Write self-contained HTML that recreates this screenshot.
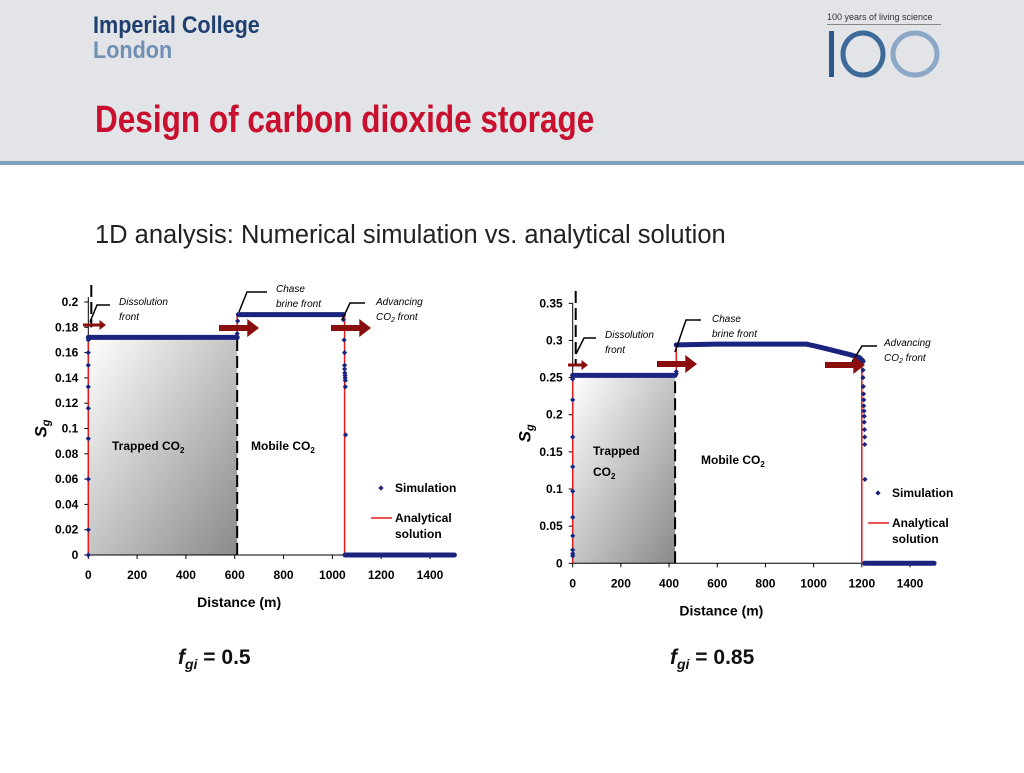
<!DOCTYPE html>
<html><head><meta charset="utf-8"><style>
body{margin:0;width:1024px;height:768px;overflow:hidden;background:#fff;font-family:"Liberation Sans",sans-serif}
svg text{font-family:"Liberation Sans",sans-serif}
</style></head><body>
<svg id="s" width="1024" height="768" xmlns="http://www.w3.org/2000/svg">
<defs>
<linearGradient id="gr" x1="0" y1="0" x2="1" y2="1"><stop offset="0" stop-color="#ffffff"/><stop offset="1" stop-color="#8a8a8a"/></linearGradient>
</defs>
<rect x="0" y="0" width="1024" height="161" fill="#e2e4e8"/>
<rect x="0" y="161" width="1024" height="4" fill="#809fbd"/>
<text x="93" y="33" font-size="24" font-weight="bold" fill="#1f3f6e" transform="translate(93 0) scale(0.9 1) translate(-93 0)">Imperial College</text>
<text x="93" y="58" font-size="24" font-weight="bold" fill="#6f8fb3" transform="translate(93 0) scale(0.9 1) translate(-93 0)">London</text>
<text x="827" y="20" font-size="9" fill="#333">100 years of living science</text>
<rect x="827" y="24" width="114" height="1" fill="#888"/>
<g>
<rect x="829" y="31" width="5" height="46" fill="#2a5a8a"/>
<ellipse cx="863" cy="54" rx="20" ry="21" fill="none" stroke="#3d6a98" stroke-width="5"/>
<ellipse cx="915" cy="54" rx="22" ry="21" fill="none" stroke="#8ca8c6" stroke-width="5"/>
</g>
<text x="95" y="132" font-size="38" font-weight="bold" fill="#c8102e" font-family="Liberation Sans Narrow, Liberation Sans, sans-serif" transform="translate(95 0) scale(0.83 1) translate(-95 0)">Design of carbon dioxide storage</text>
<text x="95" y="243" font-size="25.5" fill="#222">1D analysis: Numerical simulation vs. analytical solution</text>
<g id="c1"></g>
<g id="c2"></g>
<text x="178" y="664" font-size="21" font-weight="bold" fill="#111"><tspan font-style="italic">f</tspan><tspan font-style="italic" font-size="14" dy="5">gi</tspan><tspan dy="-5"> = 0.5</tspan></text>
<text x="670" y="664" font-size="21" font-weight="bold" fill="#111"><tspan font-style="italic">f</tspan><tspan font-style="italic" font-size="14" dy="5">gi</tspan><tspan dy="-5"> = 0.85</tspan></text>
</svg>
<script>
// Chart 1 data (fgi = 0.5)
const yTicks1=[0,0.02,0.04,0.06,0.08,0.1,0.12,0.14,0.16,0.18,0.2];
const yLabels1=["0","0.02","0.04","0.06","0.08","0.1","0.12","0.14","0.16","0.18","0.2"];
const xTicks=[0,200,400,600,800,1000,1200,1400];
const plateau1=[[0,610,0.172],[615,1045,0.19],[1052,1500,0]];
const simX1=[0,0,0,0,0,0,0,0,0,610,612,1045,1048,1050,1050,1050,1051,1052,1052,1053,1053,1054];
const simY1=[0,0.02,0.06,0.092,0.116,0.133,0.15,0.16,0.17,0.175,0.185,0.186,0.17,0.16,0.15,0.147,0.144,0.142,0.14,0.138,0.133,0.095];
const anaX1=[0,0,610,610,1050,1050,1500];
const anaY1=[0,0.172,0.172,0.19,0.19,0,0];
// Chart 2 data (fgi = 0.85)
const yTicks2=[0,0.05,0.1,0.15,0.2,0.25,0.3,0.35];
const yLabels2=["0","0.05","0.1","0.15","0.2","0.25","0.3","0.35"];
const curveX2=[430,600,800,970,1000,1050,1100,1150,1190,1205];
const curveY2=[0.294,0.295,0.295,0.295,0.293,0.289,0.285,0.281,0.277,0.272];
const plateau2=[[0,425,0.253],[1212,1500,0]];
const simX2=[0,0,0,0,0,0,0,0,0,0,430,430,1205,1205,1206,1207,1208,1208,1209,1210,1210,1211,1212,1212,1213];
const simY2=[0.01,0.013,0.018,0.037,0.062,0.097,0.13,0.17,0.22,0.248,0.255,0.258,0.26,0.25,0.238,0.228,0.22,0.212,0.205,0.198,0.19,0.18,0.17,0.16,0.113];
const anaX2=[0,0,430,430,970,1050,1150,1200,1200,1500];
const anaY2=[0,0.253,0.253,0.294,0.295,0.289,0.281,0.274,0,0];

const NS="http://www.w3.org/2000/svg";
function mk(p,t,a){const e=document.createElementNS(NS,t);for(const k in a)e.setAttribute(k,a[k]);p.appendChild(e);return e;}
function txt(p,x,y,s,a){const e=mk(p,'text',Object.assign({x:x,y:y},a||{}));e.textContent=s;return e;}
function diamond(g,cx,cy){const d=mk(g,'path',{d:`M${cx} ${cy-2.6}L${cx+2.6} ${cy}L${cx} ${cy+2.6}L${cx-2.6} ${cy}Z`,fill:'#1a237e'});

}
function arrow(g,x,y,len,big){const w=big?6:3,h=big?9:5;const a=mk(g,'path',{d:`M${x} ${y-w/2}H${x+len-h*1.3}V${y-h}L${x+len} ${y}L${x+len-h*1.3} ${y+h}V${y+w/2}H${x}Z`,fill:'#8b0e0e'});

}

function chart(g,o){
 const X=v=>o.x0+(v/1400)*(o.x1400-o.x0), Y=v=>o.y0-(v/o.ymax)*(o.y0-o.ytop);
 const r=mk(g,'rect',{x:X(0),y:Y(o.trapY),width:X(o.chaseX)-X(0),height:Y(0)-Y(o.trapY),fill:'url(#gr)'});
 
 
 const ax=mk(g,'path',{d:`M${X(0)} ${o.axTop}V${Y(0)}H${X(1500)}`,stroke:'#000','stroke-width':1,fill:'none'});
 
 
 o.yt.forEach((v,i)=>{mk(g,'line',{x1:X(0)-4,x2:X(0),y1:Y(v),y2:Y(v),stroke:'#000'});
  const t=txt(g,X(0)-10,Y(v)+4,o.yl[i],{'font-size':12,'font-weight':'bold','text-anchor':'end'});
  
  });
 xTicks.forEach(v=>{mk(g,'line',{x1:X(v),x2:X(v),y1:Y(0),y2:Y(0)+4,stroke:'#000'});
  const t=txt(g,X(v),Y(0)+24,String(v),{'font-size':12,'font-weight':'bold','text-anchor':'middle'});
  
  });
 const xt=txt(g,X(700)-20,Y(0)+52,'Distance (m)',{'font-size':14,'font-weight':'bold','text-anchor':'middle'});
 
 
 const yt=mk(g,'text',{x:0,y:0,'font-size':17,'font-weight':'bold','font-style':'italic',transform:`translate(${o.x0-42} ${(o.y0+o.ytop)/2}) rotate(-90)`,'text-anchor':'middle'});
 yt.innerHTML='S<tspan font-size="11" dy="3">g</tspan>';
 
 
 mk(g,'line',{x1:X(o.chaseX),x2:X(o.chaseX),y1:Y(0),y2:Y(o.trapY)+2,stroke:'#000','stroke-width':2,'stroke-dasharray':'12,5'});
 mk(g,'line',{x1:X(0)+3,x2:X(0)+3,y1:o.axTop-12,y2:Y(o.trapY)-10,stroke:'#000','stroke-width':2,'stroke-dasharray':'12,5'});
 const pts=o.ax.map((v,i)=>X(v)+','+Y(o.ay[i])).join(' ');
 const an=mk(g,'polyline',{points:pts,stroke:'#e31b1b','stroke-width':1.5,fill:'none'});
 
 
 o.pl.forEach(p=>{const l=mk(g,'line',{x1:X(p[0]),x2:X(p[1]),y1:Y(p[2]),y2:Y(p[2]),stroke:'#1a237e','stroke-width':5,'stroke-linecap':'round'});
  
  });
 if(o.cx){const l=mk(g,'polyline',{points:o.cx.map((v,i)=>X(v)+','+Y(o.cy[i])).join(' '),stroke:'#1a237e','stroke-width':5,fill:'none','stroke-linecap':'round'});
  
  }
 o.sx.forEach((v,i)=>diamond(g,X(v),Y(o.sy[i])));
 o.labels.forEach(L=>{const t=mk(g,'text',{x:L[0],y:L[1],'font-size':12,'font-weight':'bold'});t.innerHTML=L[2];
  
  });
 o.notes.forEach(N=>{mk(g,'path',{d:N[0],stroke:'#000','stroke-width':1.5,fill:'none'});
  N[1].forEach((s,k)=>{const t=mk(g,'text',{x:N[2],y:N[3]+k*15,'font-size':10,'font-style':'italic'});t.innerHTML=s;
   
   });});
 o.arrows.forEach(A=>arrow(g,A[0],A[1],A[2],A[3]));
 diamond(g,o.lg[0],o.lg[1]);
 const l1=txt(g,o.lg[0]+14,o.lg[1]+4,'Simulation',{'font-size':12,'font-weight':'bold'});
 
 
 mk(g,'line',{x1:o.lg[0]-10,x2:o.lg[0]+11,y1:o.lg[1]+30,y2:o.lg[1]+30,stroke:'#e31b1b','stroke-width':1.5});
 const l2=txt(g,o.lg[0]+14,o.lg[1]+34,'Analytical',{'font-size':12,'font-weight':'bold'});
 
 
 txt(g,o.lg[0]+14,o.lg[1]+50,'solution',{'font-size':12,'font-weight':'bold'});
}
chart(document.getElementById('c1'),{x0:88.3,x1400:430,y0:555,ytop:302,ymax:0.2,axTop:297,yt:yTicks1,yl:yLabels1,
 trapY:0.172,chaseX:610,ax:anaX1,ay:anaY1,pl:plateau1,sx:simX1,sy:simY1,
 labels:[[112,450,'Trapped CO<tspan font-size="8" dy="3">2</tspan>'],[251,450,'Mobile CO<tspan font-size="8" dy="3">2</tspan>']],
 notes:[['M90 322L97 305H110',['Dissolution','front'],119,305],['M239 312L247 292H267',['Chase','brine front'],276,292],['M342 320L350 303H365',['Advancing','CO<tspan font-size="7" dy="2">2</tspan><tspan dy="-2"> front</tspan>'],376,305]],
 arrows:[[83,325,23,false],[219,328,40,true],[331,328,40,true]],lg:[381,488]});
chart(document.getElementById('c2'),{x0:572.7,x1400:910,y0:563.3,ytop:303.3,ymax:0.35,axTop:303,yt:yTicks2,yl:yLabels2,
 trapY:0.253,chaseX:425,ax:anaX2,ay:anaY2,pl:plateau2,sx:simX2,sy:simY2,cx:curveX2,cy:curveY2,
 labels:[[593,455,'Trapped'],[593,476,'CO<tspan font-size="8" dy="3">2</tspan>'],[701,464,'Mobile CO<tspan font-size="8" dy="3">2</tspan>']],
 notes:[['M576 354L584 338H596',['Dissolution','front'],605,338],['M675 352L686 320H701',['Chase','brine front'],712,322],['M852 362L862 346H877',['Advancing','CO<tspan font-size="7" dy="2">2</tspan><tspan dy="-2"> front</tspan>'],884,346]],
 arrows:[[568,365,20,false],[657,364,40,true],[825,365,40,true]],lg:[878,493]});
</script>
</body></html>
